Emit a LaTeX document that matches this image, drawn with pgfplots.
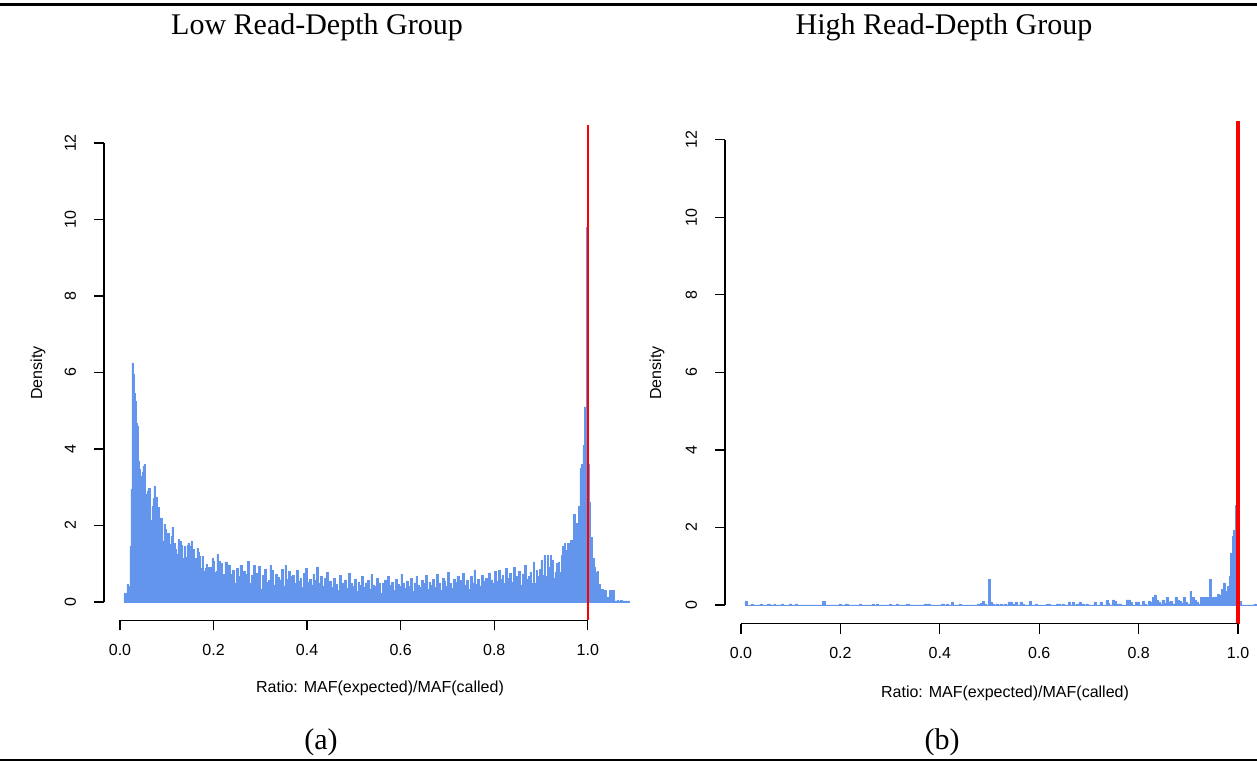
\documentclass[border=0pt]{standalone}
\usepackage{fontspec}
\setmainfont{Liberation Serif}
\setsansfont{Liberation Sans}
\usepackage{pgfplots}
\usepackage{pgfplotstable}
\pgfplotsset{compat=1.18}
\definecolor{cfblue}{HTML}{6495ED}
\newcommand{\af}{\sffamily\fontsize{6.4}{7.7}\selectfont}

\pgfplotstableread{
y
0.22
0.22
0.09
0.46
0.41
0.41
1.46
2.95
6.25
5.95
5.45
5.25
4.66
4.59
3.68
3.47
3.11
3.29
3.39
3.55
3.6
2.61
2.81
2.9
2.97
2.97
1.57
2.14
2.49
2.7
3.03
2.37
2.75
2.2
2.48
2.07
2.2
2.2
1.6
1.6
2.03
1.9
1.8
1.7
1.8
1.5
1.5
1.72
1.95
1.38
1.53
1.38
0.89
1.25
1.64
1.22
1.6
1.48
1.14
1.11
1.46
1.18
0.88
1.48
1.54
1.07
1.45
1.6
1.3
1.37
1.04
1.14
1.14
1.4
1.3
1.2
0.88
0.56
1.2
0.81
0.7
0.87
0.98
0.65
0.9
0.65
0.91
0.65
1.13
1.07
0.77
0.65
0.8
1.24
0.91
1.07
0.8
1.0
0.48
0.72
0.65
0.65
}\lowA

\pgfplotstableread{
y
1.05
0.8
0.97
0.72
0.83
0.5
0.87
0.66
0.96
0.57
0.8
0.72
1.06
0.5
0.7
0.95
0.58
0.75
0.93
0.33
0.7
0.85
0.52
0.57
0.96
0.82
0.45
0.72
0.65
0.58
0.86
0.42
0.95
0.6
0.8
0.66
0.7
0.49
0.83
0.55
0.62
0.38
0.74
0.88
0.51
0.6
0.45
0.72
0.57
0.92
0.5
0.66
0.4
0.61
0.78
0.53
0.55
0.38
0.62
0.46
0.3
0.7
0.5
0.42
0.58
0.35
0.75
0.48
0.4
0.6
0.27
0.52
0.44
0.66
0.38
0.5
0.56
0.33
0.72
0.45
0.4
0.62
0.5
0.22
0.48
0.58
0.36
0.68
0.44
0.52
0.3
0.6
0.46
0.4
0.73
0.5
0.35
0.55
0.42
0.62
0.28
0.5
0.66
0.45
0.38
0.56
0.48
0.7
0.34
0.52
0.45
0.6
0.38
0.72
0.5
0.3
0.62
0.55
0.42
0.78
0.48
0.36
0.6
0.52
0.68
0.4
0.56
0.74
0.45
0.58
0.34
0.66
0.5
0.84
0.47
0.6
0.42
0.7
0.55
0.62
0.38
0.76
0.58
0.48
0.8
0.55
0.82
0.6
0.7
0.48
0.88
0.62
0.74
0.52
0.9
0.66
0.58
0.8
0.45
0.72
0.95
0.6
0.68
0.68
}\lowB

\pgfplotstableread{
y
0.79
0.49
1.05
0.49
0.83
0.66
0.86
1.1
0.7
1.22
0.66
1.22
0.92
1.22
1.1
0.62
0.79
1.0
1.05
0.79
1.22
1.46
1.53
1.35
1.53
1.45
1.62
1.5
2.3
1.78
2.05
2.5
3.5
3.6
4.1
5.1
9.8
3.6
2.6
1.7
1.13
0.92
0.78
0.8
0.47
0.25
0.34
0.18
0.3
0.13
0.12
0.3
0.13
0.3
0.03
0.03
0.05
0.03
0.05
0.03
0.03
0.03
0.03
0.03
0.03
}\lowC

\pgfplotsset{
  rstyle/.style={
    scale only axis,
    axis lines*=left,
    axis line style={draw=none},
    tick align=outside,
    major tick length=4pt,
    tick style={black, line width=0.5pt},
    ymin=-0.48, ymax=12.48,
    ytick={0,2,4,6,8,10,12},
    yticklabels={0,2,4,6,8,10,12},
    xtick={0,0.2,0.4,0.6,0.8,1},
    xticklabels={0.0,0.2,0.4,0.6,0.8,1.0},
    ticklabel style={font=\af},
    yticklabel style={xshift=-9.5pt, rotate=90, anchor=center},
    xticklabel style={yshift=-7.8pt, anchor=center},
    clip=false,
  },
  hbar/.style={ybar interval, fill=cfblue, draw=cfblue, line width=0.25pt},
}

\begin{document}
\begin{tikzpicture}
\path[use as bounding box] (0,0) rectangle (502.8pt,304.4pt);
\fill[black] (0,301.9pt) rectangle (502.8pt,303.0pt);
\fill[black] (0,0) rectangle (502.8pt,0.6pt);

\node[font=\fontsize{12}{14}\selectfont, inner sep=0pt] at (126.8pt,293.6pt) {Low Read-Depth Group};
\node[font=\fontsize{12}{14}\selectfont, inner sep=0pt] at (377.6pt,293.6pt) {High Read-Depth Group};
\node[font=\fontsize{12}{14}\selectfont, inner sep=0pt] at (128.4pt,7.6pt) {(a)};
\node[font=\fontsize{12}{14}\selectfont, inner sep=0pt] at (376.8pt,7.6pt) {(b)};

\node[font=\af, rotate=90, inner sep=0pt] at (15.2pt,155.2pt) {Density};
\node[font=\af, rotate=90, inner sep=0pt] at (262.8pt,155.2pt) {Density};
\node[font=\af, inner sep=0pt] at (152pt,29.2pt) {Ratio: MAF(expected)/MAF(called)};
\node[font=\af, inner sep=0pt] at (402pt,27.2pt) {Ratio: MAF(expected)/MAF(called)};

\begin{axis}[rstyle, anchor=south west, at={(41.6pt,56.24pt)},
  width=218.4pt, height=198.3pt, xmin=-0.0342, xmax=1.133]
  \addplot[hbar] table[x expr={0.00855+0.002137*\coordindex}, y=y] {\lowA};
  \addplot[hbar] table[x expr={0.2244+0.004*\coordindex}, y=y] {\lowB};
  \addplot[hbar] table[x expr={0.8764+0.00333*\coordindex}, y=y] {\lowC};
  \addplot[red, line width=0.9pt] coordinates {(1,-0.48) (1,12.48)};
  \draw[black, line width=0.6pt] (axis cs:-0.0342,0) -- (axis cs:-0.0342,12);
  \draw[black, line width=0.6pt] (axis cs:0,-0.48) -- (axis cs:1,-0.48);
\end{axis}

\begin{axis}[rstyle, anchor=south west, at={(290pt,54.96pt)},
  width=212.8pt, height=201.0pt, xmin=-0.0322, xmax=1.0382]
  \addplot[hbar] coordinates {
    (0.008,0.085)(0.0135,0)(0.0215,0.03)(0.0255,0)(0.038,0.03)(0.042,0)
    (0.053,0.03)(0.058,0)(0.066,0.03)(0.070,0)(0.082,0.03)(0.086,0)
    (0.097,0.03)(0.102,0)(0.110,0.03)(0.114,0)(0.164,0.085)(0.169,0)
    (0.197,0.03)(0.201,0)(0.209,0.03)(0.215,0)(0.238,0.03)(0.242,0)
    (0.265,0.03)(0.269,0)(0.273,0.03)(0.277,0)(0.298,0.03)(0.302,0)
    (0.312,0.03)(0.316,0)(0.332,0.03)(0.338,0)(0.368,0.03)(0.380,0)
    (0.404,0.03)(0.410,0)(0.414,0.03)(0.418,0)(0.424,0.08)(0.428,0)
    (0.439,0.03)(0.443,0)(0.475,0.03)(0.479,0)(0.481,0.05)(0.485,0.1)
    (0.489,0.03)(0.493,0)(0.497,0.67)(0.501,0.08)(0.505,0.03)(0.509,0)
    (0.513,0.03)(0.517,0)(0.521,0.03)(0.525,0)(0.529,0.03)(0.533,0)
    (0.537,0.08)(0.545,0.03)(0.549,0)(0.551,0.08)(0.555,0)(0.561,0.08)
    (0.565,0.03)(0.569,0)(0.581,0.1)(0.585,0)(0.593,0.03)(0.597,0)
    (0.614,0.03)(0.622,0)(0.634,0.03)(0.642,0)(0.646,0.03)(0.650,0)
    (0.658,0.08)(0.662,0)(0.666,0.08)(0.670,0)(0.674,0.03)(0.678,0)
    (0.680,0.08)(0.684,0.03)(0.690,0)(0.694,0.03)(0.698,0)(0.710,0.08)
    (0.714,0)(0.722,0.08)(0.726,0)(0.734,0.12)(0.738,0.05)(0.742,0)
    (0.748,0.13)(0.752,0.1)(0.756,0.03)(0.766,0)(0.775,0.13)(0.783,0.08)
    (0.787,0)(0.793,0.08)(0.801,0)(0.807,0.1)(0.811,0.03)(0.815,0)
    (0.819,0.1)(0.823,0.08)(0.827,0.19)(0.831,0.26)(0.835,0.13)(0.839,0.08)
    (0.843,0.03)(0.847,0.13)(0.851,0.05)(0.855,0.2)(0.859,0.08)(0.863,0.1)
    (0.867,0.03)(0.873,0.19)(0.877,0.13)(0.881,0.1)(0.885,0.05)(0.889,0.19)
    (0.893,0.08)(0.897,0.03)(0.903,0.34)(0.907,0.08)(0.909,0.19)(0.913,0.13)
    (0.917,0.08)(0.921,0.03)(0.925,0.2)(0.929,0.2)(0.934,0.2)(0.938,0.2)
    (0.942,0.67)(0.946,0.2)(0.950,0.2)(0.954,0.21)(0.958,0.28)(0.962,0.25)
    (0.966,0.41)(0.970,0.57)(0.974,0.34)(0.978,0.47)(0.982,0.75)(0.985,1.33)
    (0.988,1.77)(0.991,1.93)(0.994,2.56)(0.997,5.64)(1.000,0)(1.003,0.1)
    (1.007,0)(1.032,0.03)(1.036,0)
  };
  \addplot[red, line width=1.3pt] coordinates {(1,-0.48) (1,12.48)};
  \draw[black, line width=0.6pt] (axis cs:-0.0322,0) -- (axis cs:-0.0322,12);
  \draw[black, line width=0.6pt] (axis cs:0,-0.48) -- (axis cs:1,-0.48);
\end{axis}
\end{tikzpicture}
\end{document}
